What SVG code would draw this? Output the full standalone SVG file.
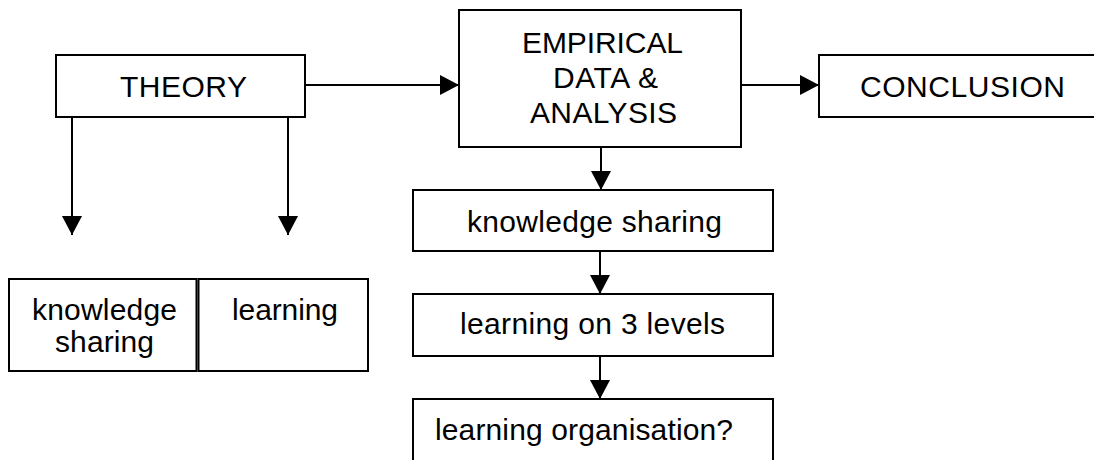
<svg xmlns="http://www.w3.org/2000/svg" width="1094" height="460" viewBox="0 0 1094 460">
<style>
.box{fill:#fff;stroke:#000;stroke-width:2}
.t{font-family:"Liberation Sans",Arial,sans-serif;font-size:30px;fill:#000;text-anchor:middle}
.c{stroke:#000;stroke-width:2;fill:none;marker-end:url(#ah)}
</style>
<defs>
<marker id="ah" markerUnits="userSpaceOnUse" markerWidth="19" markerHeight="20" refX="19" refY="10" orient="auto" viewBox="0 0 19 20">
<path d="M0,0 L19,10 L0,20 z" fill="#000"/>
</marker>
</defs>
<rect width="1094" height="460" fill="#fff"/>
<g id="connectors">
<line class="c" x1="304" y1="85" x2="459" y2="85"/>
<line class="c" x1="741" y1="85" x2="819" y2="85"/>
<line class="c" x1="72" y1="116" x2="72" y2="235"/>
<line class="c" x1="288" y1="116" x2="288" y2="235"/>
<line class="c" x1="601" y1="147" x2="601" y2="190"/>
<line class="c" x1="600" y1="251" x2="600" y2="294"/>
<line class="c" x1="600" y1="356" x2="600" y2="399"/>
</g>
<g id="theory">
<rect class="box" x="56" y="55" width="249" height="62"/>
<text class="t" x="183.5" y="97" textLength="127" lengthAdjust="spacing">THEORY</text>
</g>
<g id="empirical">
<rect class="box" x="459" y="10" width="282" height="137"/>
<text class="t" x="602.5" y="53" textLength="161" lengthAdjust="spacing">EMPIRICAL</text>
<text class="t" x="605.5" y="88" textLength="105" lengthAdjust="spacing">DATA &amp;</text>
<text class="t" x="603.5" y="123" textLength="147" lengthAdjust="spacing">ANALYSIS</text>
</g>
<g id="conclusion">
<rect class="box" x="819" y="55" width="290" height="62"/>
<text class="t" x="962.5" y="97" textLength="205" lengthAdjust="spacing">CONCLUSION</text>
</g>
<g id="ks-theory">
<rect class="box" x="9" y="279" width="187.5" height="92"/>
<text class="t" x="104.5" y="320" textLength="145" lengthAdjust="spacing">knowledge</text>
<text class="t" x="104.5" y="352" textLength="99" lengthAdjust="spacing">sharing</text>
</g>
<g id="learning-theory">
<rect class="box" x="198.5" y="279" width="169.5" height="92"/>
<text class="t" x="285" y="320" textLength="106" lengthAdjust="spacing">learning</text>
</g>
<g id="ks-empirical">
<rect class="box" x="413" y="190" width="360" height="61"/>
<text class="t" x="594.5" y="232" textLength="255" lengthAdjust="spacing">knowledge sharing</text>
</g>
<g id="learning-levels">
<rect class="box" x="413" y="294" width="360" height="62"/>
<text class="t" x="592.5" y="334" textLength="265" lengthAdjust="spacing">learning on 3 levels</text>
</g>
<g id="learning-org">
<rect class="box" x="413" y="399" width="360" height="75"/>
<text class="t" x="584" y="440" textLength="298" lengthAdjust="spacing">learning organisation?</text>
</g>
</svg>
